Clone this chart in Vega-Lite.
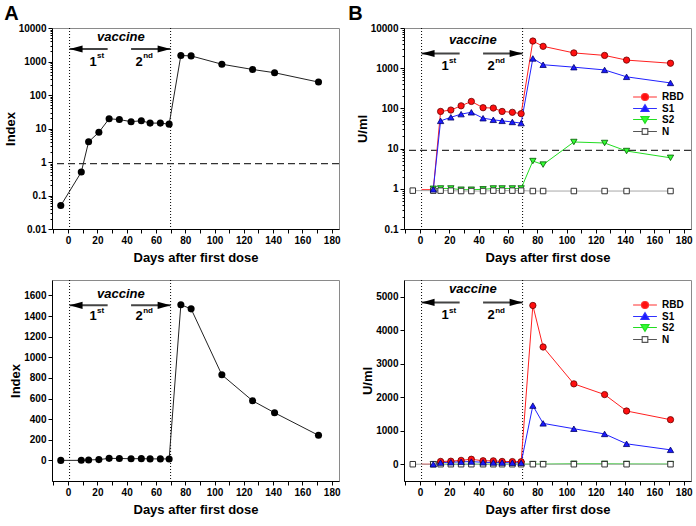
{
  "$schema": "https://vega.github.io/schema/vega-lite/v6.json",
  "padding": {"left": 3, "top": 3, "right": 2, "bottom": 4},
  "config": {
    "font": "Liberation Sans",
    "view": {"stroke": "#8a8a8a", "strokeWidth": 1},
    "axis": {
      "grid": false,
      "labelFont": "Liberation Sans",
      "labelFontSize": 10,
      "labelFontWeight": "bold",
      "labelColor": "black",
      "labelPadding": 2,
      "labelOverlap": false,
      "titleFont": "Liberation Sans",
      "titleFontSize": 13,
      "titleFontWeight": "bold",
      "titleColor": "black",
      "domainColor": "black",
      "tickColor": "black",
      "tickSize": 4
    },
    "axisX": {"titlePadding": 6},
    "axisY": {"titlePadding": 1},
    "title": {"fontSize": 20, "fontWeight": "bold", "anchor": "start", "frame": "bounds", "color": "black", "offset": -1},
    "legend": {
      "labelFont": "Liberation Sans",
      "labelFontSize": 10,
      "labelFontWeight": "bold",
      "labelColor": "black",
      "symbolSize": 49,
      "symbolStrokeWidth": 1.2,
      "symbolOpacity": 1,
      "labelOffset": 12,
      "rowPadding": -1.5,
      "padding": 0
    }
  },
  "datasets": {
    "indexA": [
      {"day": -5, "index": 0.05},
      {"day": 9, "index": 0.5},
      {"day": 14, "index": 4},
      {"day": 21, "index": 7.7},
      {"day": 28, "index": 19.5},
      {"day": 35, "index": 18.5},
      {"day": 43, "index": 16},
      {"day": 50, "index": 17},
      {"day": 56, "index": 14.5},
      {"day": 63, "index": 14.5},
      {"day": 69, "index": 13.5},
      {"day": 77, "index": 1510},
      {"day": 84, "index": 1470},
      {"day": 105, "index": 830},
      {"day": 126, "index": 578},
      {"day": 141, "index": 462},
      {"day": 171, "index": 243}
    ],
    "elisa": [
      {"series": "RBD", "day": 1, "value": 0.95},
      {"series": "RBD", "day": 9, "value": 0.95},
      {"series": "RBD", "day": 14, "value": 84},
      {"series": "RBD", "day": 21, "value": 91},
      {"series": "RBD", "day": 28, "value": 116},
      {"series": "RBD", "day": 35, "value": 149},
      {"series": "RBD", "day": 43, "value": 104},
      {"series": "RBD", "day": 50, "value": 102},
      {"series": "RBD", "day": 56, "value": 84},
      {"series": "RBD", "day": 63, "value": 80},
      {"series": "RBD", "day": 69, "value": 74},
      {"series": "RBD", "day": 77, "value": 4740},
      {"series": "RBD", "day": 84, "value": 3500},
      {"series": "RBD", "day": 105, "value": 2400},
      {"series": "RBD", "day": 126, "value": 2080},
      {"series": "RBD", "day": 141, "value": 1590},
      {"series": "RBD", "day": 171, "value": 1330},
      {"series": "S1", "day": 9, "value": 0.97},
      {"series": "S1", "day": 14, "value": 49},
      {"series": "S1", "day": 21, "value": 60},
      {"series": "S1", "day": 28, "value": 72},
      {"series": "S1", "day": 35, "value": 80},
      {"series": "S1", "day": 43, "value": 57},
      {"series": "S1", "day": 50, "value": 52},
      {"series": "S1", "day": 56, "value": 49},
      {"series": "S1", "day": 63, "value": 46},
      {"series": "S1", "day": 69, "value": 43},
      {"series": "S1", "day": 77, "value": 1750},
      {"series": "S1", "day": 84, "value": 1220},
      {"series": "S1", "day": 105, "value": 1060},
      {"series": "S1", "day": 126, "value": 905},
      {"series": "S1", "day": 141, "value": 610},
      {"series": "S1", "day": 171, "value": 430},
      {"series": "S2", "day": 9, "value": 1.0},
      {"series": "S2", "day": 14, "value": 1.02},
      {"series": "S2", "day": 21, "value": 1.02},
      {"series": "S2", "day": 28, "value": 0.95},
      {"series": "S2", "day": 35, "value": 0.95},
      {"series": "S2", "day": 43, "value": 0.97},
      {"series": "S2", "day": 50, "value": 1.02},
      {"series": "S2", "day": 56, "value": 1.02},
      {"series": "S2", "day": 63, "value": 1.02},
      {"series": "S2", "day": 69, "value": 1.02},
      {"series": "S2", "day": 77, "value": 4.9},
      {"series": "S2", "day": 84, "value": 4.0},
      {"series": "S2", "day": 105, "value": 14.6},
      {"series": "S2", "day": 126, "value": 13.8},
      {"series": "S2", "day": 141, "value": 8.7},
      {"series": "S2", "day": 171, "value": 5.9},
      {"series": "N", "day": -5, "value": 0.9},
      {"series": "N", "day": 9, "value": 0.9},
      {"series": "N", "day": 14, "value": 0.9},
      {"series": "N", "day": 21, "value": 0.9},
      {"series": "N", "day": 28, "value": 0.88},
      {"series": "N", "day": 35, "value": 0.88},
      {"series": "N", "day": 43, "value": 0.88},
      {"series": "N", "day": 50, "value": 0.9},
      {"series": "N", "day": 56, "value": 0.9},
      {"series": "N", "day": 63, "value": 0.9},
      {"series": "N", "day": 69, "value": 0.9},
      {"series": "N", "day": 77, "value": 0.88},
      {"series": "N", "day": 84, "value": 0.88},
      {"series": "N", "day": 105, "value": 0.88},
      {"series": "N", "day": 126, "value": 0.88},
      {"series": "N", "day": 141, "value": 0.88},
      {"series": "N", "day": 171, "value": 0.88}
    ],
    "doses": [{"day": 1}, {"day": 70}],
    "cutoffs": [{"panel": "A", "value": 0.9}, {"panel": "B", "value": 9}],
    "notes": [
      {"kind": "word", "label": "vaccine", "day": 36, "yTA": 5270, "yTB": 5150, "yBA": 1615, "yBB": 5230},
      {"kind": "num", "label": "1", "day": 17, "yTA": 946, "yTB": 1120, "yBA": 1398, "yBB": 4450},
      {"kind": "num", "label": "2", "day": 48.5, "yTA": 946, "yTB": 1120, "yBA": 1398, "yBB": 4450},
      {"kind": "sup", "label": "st", "day": 17, "yTA": 1500, "yTB": 1490, "yBA": 1447, "yBB": 4570},
      {"kind": "sup", "label": "nd", "day": 48.5, "yTA": 1500, "yTB": 1490, "yBA": 1447, "yBB": 4570},
      {"kind": "arrowL", "day": 1, "day2": 27, "yTA": 2360, "yTB": 2320, "yBA": 1504, "yBB": 4830},
      {"kind": "arrowR", "day": 70, "day2": 43, "yTA": 2360, "yTB": 2320, "yBA": 1504, "yBB": 4830}
    ]
  },
  "columns": 2,
  "bounds": "flush",
  "spacing": {"column": 65, "row": 51},
  "resolve": {"scale": {"color": "independent", "shape": "independent", "fill": "independent", "stroke": "independent"}},
  "concat": [
    {
      "width": 287,
      "height": 201,
      "title": {"text": "A"},
      "layer": [
        {
          "data": {"name": "doses"},
          "mark": {"type": "rule", "strokeDash": [1, 2], "color": "black", "strokeWidth": 1},
          "encoding": {"x": {"field": "day", "type": "quantitative"}}
        },
        {
          "data": {"name": "cutoffs"},
          "transform": [{"filter": "datum.panel == 'A'"}],
          "mark": {"type": "rule", "strokeDash": [7, 4], "color": "#333333", "strokeWidth": 1.2},
          "encoding": {"y": {"field": "value", "type": "quantitative"}}
        },
        {
          "data": {"name": "notes"},
          "transform": [{"filter": "datum.kind == 'arrowL' || datum.kind == 'arrowR'"}],
          "mark": {"type": "rule", "color": "#444444", "strokeWidth": 2},
          "encoding": {
            "x": {"field": "day", "type": "quantitative"},
            "x2": {"field": "day2"},
            "y": {"field": "yTA", "type": "quantitative"}
          }
        },
        {
          "data": {"name": "notes"},
          "transform": [{"filter": "datum.kind == 'arrowL'"}],
          "mark": {"type": "point", "shape": "M0,0L2,-0.55L2,0.55Z", "filled": true, "color": "black", "size": 169, "opacity": 1},
          "encoding": {
            "x": {"field": "day", "type": "quantitative"},
            "y": {"field": "yTA", "type": "quantitative"}
          }
        },
        {
          "data": {"name": "notes"},
          "transform": [{"filter": "datum.kind == 'arrowR'"}],
          "mark": {"type": "point", "shape": "M0,0L-2,-0.55L-2,0.55Z", "filled": true, "color": "black", "size": 169, "opacity": 1},
          "encoding": {
            "x": {"field": "day", "type": "quantitative"},
            "y": {"field": "yTA", "type": "quantitative"}
          }
        },
        {
          "data": {"name": "notes"},
          "transform": [{"filter": "datum.kind == 'word'"}],
          "mark": {"type": "text", "fontSize": 13, "fontWeight": "bold", "fontStyle": "italic", "baseline": "middle", "color": "black"},
          "encoding": {
            "x": {"field": "day", "type": "quantitative"},
            "y": {"field": "yTA", "type": "quantitative"},
            "text": {"field": "label"}
          }
        },
        {
          "data": {"name": "notes"},
          "transform": [{"filter": "datum.kind == 'num'"}],
          "mark": {"type": "text", "fontSize": 13, "fontWeight": "bold", "baseline": "middle", "color": "black"},
          "encoding": {
            "x": {"field": "day", "type": "quantitative"},
            "y": {"field": "yTA", "type": "quantitative"},
            "text": {"field": "label"}
          }
        },
        {
          "data": {"name": "notes"},
          "transform": [{"filter": "datum.kind == 'sup'"}],
          "mark": {"type": "text", "fontSize": 8, "fontWeight": "bold", "baseline": "middle", "align": "left", "dx": 4, "color": "black"},
          "encoding": {
            "x": {"field": "day", "type": "quantitative"},
            "y": {"field": "yTA", "type": "quantitative"},
            "text": {"field": "label"}
          }
        },
        {
          "data": {"name": "indexA"},
          "mark": {"type": "line", "color": "#222222", "strokeWidth": 1},
          "encoding": {
            "x": {
              "field": "day", "type": "quantitative",
              "scale": {"domain": [-11, 185], "nice": false, "zero": false},
              "axis": {
                "title": "Days after first dose",
                "tickCount": 100,
                "values": [-10, 0, 10, 20, 30, 40, 50, 60, 70, 80, 90, 100, 110, 120, 130, 140, 150, 160, 170, 180],
                "labelExpr": "indexof([0, 20, 40, 60, 80, 100, 120, 140, 160, 180], datum.value) >= 0 ? datum.label : ''",
                "labelOverlap": false,
                "labelFlush": false
              }
            },
            "y": {
              "field": "index", "type": "quantitative",
              "scale": {"type": "log", "domain": [0.01, 10000], "nice": false},
              "axis": {
                "title": "Index",
                "format": "~g",
                "tickCount": 100,
                "labelOverlap": false,
                "values": [0.01, 0.02, 0.03, 0.04, 0.05, 0.06, 0.07, 0.08, 0.09, 0.1, 0.2, 0.3, 0.4, 0.5, 0.6, 0.7, 0.8, 0.9, 1, 2, 3, 4, 5, 6, 7, 8, 9, 10, 20, 30, 40, 50, 60, 70, 80, 90, 100, 200, 300, 400, 500, 600, 700, 800, 900, 1000, 2000, 3000, 4000, 5000, 6000, 7000, 8000, 9000, 10000],
                "labelExpr": "indexof([0.01, 0.1, 1, 10, 100, 1000, 10000], datum.value) >= 0 ? datum.label : ''",
                "tickSize": {"condition": {"test": "indexof([0.01, 0.1, 1, 10, 100, 1000, 10000], datum.value) >= 0", "value": 4}, "value": 2}
              }
            }
          }
        },
        {
          "data": {"name": "indexA"},
          "mark": {"type": "point", "shape": "circle", "filled": true, "color": "black", "size": 50, "opacity": 1},
          "encoding": {
            "x": {"field": "day", "type": "quantitative"},
            "y": {"field": "index", "type": "quantitative"}
          }
        }
      ]
    },
    {
      "width": 287,
      "height": 201,
      "title": {"text": "B", "dx": -8},
      "layer": [
        {
          "data": {"name": "doses"},
          "mark": {"type": "rule", "strokeDash": [1, 2], "color": "black", "strokeWidth": 1},
          "encoding": {"x": {"field": "day", "type": "quantitative"}}
        },
        {
          "data": {"name": "cutoffs"},
          "transform": [{"filter": "datum.panel == 'B'"}],
          "mark": {"type": "rule", "strokeDash": [7, 4], "color": "#333333", "strokeWidth": 1.2},
          "encoding": {"y": {"field": "value", "type": "quantitative"}}
        },
        {
          "data": {"name": "notes"},
          "transform": [{"filter": "datum.kind == 'arrowL' || datum.kind == 'arrowR'"}],
          "mark": {"type": "rule", "color": "#444444", "strokeWidth": 2},
          "encoding": {
            "x": {"field": "day", "type": "quantitative"},
            "x2": {"field": "day2"},
            "y": {"field": "yTB", "type": "quantitative"}
          }
        },
        {
          "data": {"name": "notes"},
          "transform": [{"filter": "datum.kind == 'arrowL'"}],
          "mark": {"type": "point", "shape": "M0,0L2,-0.55L2,0.55Z", "filled": true, "color": "black", "size": 169, "opacity": 1},
          "encoding": {
            "x": {"field": "day", "type": "quantitative"},
            "y": {"field": "yTB", "type": "quantitative"}
          }
        },
        {
          "data": {"name": "notes"},
          "transform": [{"filter": "datum.kind == 'arrowR'"}],
          "mark": {"type": "point", "shape": "M0,0L-2,-0.55L-2,0.55Z", "filled": true, "color": "black", "size": 169, "opacity": 1},
          "encoding": {
            "x": {"field": "day", "type": "quantitative"},
            "y": {"field": "yTB", "type": "quantitative"}
          }
        },
        {
          "data": {"name": "notes"},
          "transform": [{"filter": "datum.kind == 'word'"}],
          "mark": {"type": "text", "fontSize": 13, "fontWeight": "bold", "fontStyle": "italic", "baseline": "middle", "color": "black"},
          "encoding": {
            "x": {"field": "day", "type": "quantitative"},
            "y": {"field": "yTB", "type": "quantitative"},
            "text": {"field": "label"}
          }
        },
        {
          "data": {"name": "notes"},
          "transform": [{"filter": "datum.kind == 'num'"}],
          "mark": {"type": "text", "fontSize": 13, "fontWeight": "bold", "baseline": "middle", "color": "black"},
          "encoding": {
            "x": {"field": "day", "type": "quantitative"},
            "y": {"field": "yTB", "type": "quantitative"},
            "text": {"field": "label"}
          }
        },
        {
          "data": {"name": "notes"},
          "transform": [{"filter": "datum.kind == 'sup'"}],
          "mark": {"type": "text", "fontSize": 8, "fontWeight": "bold", "baseline": "middle", "align": "left", "dx": 4, "color": "black"},
          "encoding": {
            "x": {"field": "day", "type": "quantitative"},
            "y": {"field": "yTB", "type": "quantitative"},
            "text": {"field": "label"}
          }
        },
        {
          "data": {"name": "elisa"},
          "mark": {"type": "line", "strokeWidth": 1},
          "encoding": {
            "x": {
              "field": "day", "type": "quantitative",
              "scale": {"domain": [-11, 185], "nice": false, "zero": false},
              "axis": {
                "title": "Days after first dose",
                "tickCount": 100,
                "values": [-10, 0, 10, 20, 30, 40, 50, 60, 70, 80, 90, 100, 110, 120, 130, 140, 150, 160, 170, 180],
                "labelExpr": "indexof([0, 20, 40, 60, 80, 100, 120, 140, 160, 180], datum.value) >= 0 ? datum.label : ''",
                "labelOverlap": false,
                "labelFlush": false
              }
            },
            "y": {
              "field": "value", "type": "quantitative",
              "scale": {"type": "log", "domain": [0.1, 10000], "nice": false},
              "axis": {
                "title": "U/ml",
                "format": "~g",
                "tickCount": 100,
                "labelOverlap": false,
                "values": [0.1, 0.2, 0.3, 0.4, 0.5, 0.6, 0.7, 0.8, 0.9, 1, 2, 3, 4, 5, 6, 7, 8, 9, 10, 20, 30, 40, 50, 60, 70, 80, 90, 100, 200, 300, 400, 500, 600, 700, 800, 900, 1000, 2000, 3000, 4000, 5000, 6000, 7000, 8000, 9000, 10000],
                "labelExpr": "indexof([0.1, 1, 10, 100, 1000, 10000], datum.value) >= 0 ? datum.label : ''",
                "tickSize": {"condition": {"test": "indexof([0.1, 1, 10, 100, 1000, 10000], datum.value) >= 0", "value": 4}, "value": 2}
              }
            },
            "color": {
              "field": "series", "type": "nominal",
              "scale": {"domain": ["N", "S2", "S1", "RBD"], "range": ["#a8a8a8", "#22dd22", "#2020ff", "#ff2020"]},
              "legend": null
            },
            "order": {"field": "day", "type": "quantitative"}
          }
        },
        {
          "data": {"name": "elisa"},
          "transform": [{"filter": "datum.series == 'S2'"}],
          "mark": {"type": "point", "shape": "triangle-down", "filled": true, "fill": "#33ff33", "stroke": "#005500", "strokeWidth": 0.8, "size": 40, "opacity": 1},
          "encoding": {
            "x": {"field": "day", "type": "quantitative"},
            "y": {"field": "value", "type": "quantitative"}
          }
        },
        {
          "data": {"name": "elisa"},
          "transform": [{"filter": "datum.series == 'N'"}],
          "mark": {"type": "point", "shape": "square", "filled": true, "fill": "white", "stroke": "#333333", "strokeWidth": 1, "size": 30, "opacity": 1},
          "encoding": {
            "x": {"field": "day", "type": "quantitative"},
            "y": {"field": "value", "type": "quantitative"}
          }
        },
        {
          "data": {"name": "elisa"},
          "transform": [{"filter": "datum.series == 'RBD' && datum.day > 10"}],
          "mark": {"type": "point", "shape": "circle", "filled": true, "fill": "#ff1010", "stroke": "#6a0000", "strokeWidth": 0.8, "size": 40, "opacity": 1},
          "encoding": {
            "x": {"field": "day", "type": "quantitative"},
            "y": {"field": "value", "type": "quantitative"}
          }
        },
        {
          "data": {"name": "elisa"},
          "transform": [{"filter": "datum.series == 'S1'"}],
          "mark": {"type": "point", "shape": "triangle-up", "filled": true, "fill": "#1a1aff", "stroke": "#00006a", "strokeWidth": 0.8, "size": 40, "opacity": 1},
          "encoding": {
            "x": {"field": "day", "type": "quantitative"},
            "y": {"field": "value", "type": "quantitative"}
          }
        },
        {
          "data": {"name": "elisa"},
          "transform": [{"filter": "datum.day == 171"}],
          "mark": {"type": "point", "filled": true, "opacity": 0},
          "encoding": {
            "x": {"field": "day", "type": "quantitative"},
            "y": {"field": "value", "type": "quantitative"},
            "shape": {
              "field": "series", "type": "nominal",
              "scale": {"domain": ["RBD", "S1", "S2", "N"], "range": ["M-3.4,0H-1M1,0H3.4M-1,0A1,1 0 1,0 1,0A1,1 0 1,0 -1,0Z", "M-3.4,0H-0.67M0.67,0H3.4M-1.15,0.8L0,-1.1L1.15,0.8Z", "M-3.4,0H-0.67M0.67,0H3.4M-1.15,-0.8L0,1.1L1.15,-0.8Z", "M-3.4,0H-0.8M0.8,0H3.4M-0.8,-0.8H0.8V0.8H-0.8Z"]},
              "legend": {"title": null, "orient": "none", "legendX": 236, "legendY": 64}
            },
            "fill": {
              "field": "series", "type": "nominal",
              "scale": {"domain": ["RBD", "S1", "S2", "N"], "range": ["#ff1010", "#1a1aff", "#33ff33", "#ffffff"]},
              "legend": {"title": null, "orient": "none", "legendX": 236, "legendY": 64}
            },
            "stroke": {
              "field": "series", "type": "nominal",
              "scale": {"domain": ["RBD", "S1", "S2", "N"], "range": ["#ff3030", "#3030ff", "#22dd22", "#555555"]},
              "legend": {"title": null, "orient": "none", "legendX": 236, "legendY": 64}
            }
          }
        }
      ]
    },
    {
      "width": 287,
      "height": 201,
      "layer": [
        {
          "data": {"name": "doses"},
          "mark": {"type": "rule", "strokeDash": [1, 2], "color": "black", "strokeWidth": 1},
          "encoding": {"x": {"field": "day", "type": "quantitative"}}
        },
        {
          "data": {"name": "notes"},
          "transform": [{"filter": "datum.kind == 'arrowL' || datum.kind == 'arrowR'"}],
          "mark": {"type": "rule", "color": "#444444", "strokeWidth": 2},
          "encoding": {
            "x": {"field": "day", "type": "quantitative"},
            "x2": {"field": "day2"},
            "y": {"field": "yBA", "type": "quantitative"}
          }
        },
        {
          "data": {"name": "notes"},
          "transform": [{"filter": "datum.kind == 'arrowL'"}],
          "mark": {"type": "point", "shape": "M0,0L2,-0.55L2,0.55Z", "filled": true, "color": "black", "size": 169, "opacity": 1},
          "encoding": {
            "x": {"field": "day", "type": "quantitative"},
            "y": {"field": "yBA", "type": "quantitative"}
          }
        },
        {
          "data": {"name": "notes"},
          "transform": [{"filter": "datum.kind == 'arrowR'"}],
          "mark": {"type": "point", "shape": "M0,0L-2,-0.55L-2,0.55Z", "filled": true, "color": "black", "size": 169, "opacity": 1},
          "encoding": {
            "x": {"field": "day", "type": "quantitative"},
            "y": {"field": "yBA", "type": "quantitative"}
          }
        },
        {
          "data": {"name": "notes"},
          "transform": [{"filter": "datum.kind == 'word'"}],
          "mark": {"type": "text", "fontSize": 13, "fontWeight": "bold", "fontStyle": "italic", "baseline": "middle", "color": "black"},
          "encoding": {
            "x": {"field": "day", "type": "quantitative"},
            "y": {"field": "yBA", "type": "quantitative"},
            "text": {"field": "label"}
          }
        },
        {
          "data": {"name": "notes"},
          "transform": [{"filter": "datum.kind == 'num'"}],
          "mark": {"type": "text", "fontSize": 13, "fontWeight": "bold", "baseline": "middle", "color": "black"},
          "encoding": {
            "x": {"field": "day", "type": "quantitative"},
            "y": {"field": "yBA", "type": "quantitative"},
            "text": {"field": "label"}
          }
        },
        {
          "data": {"name": "notes"},
          "transform": [{"filter": "datum.kind == 'sup'"}],
          "mark": {"type": "text", "fontSize": 8, "fontWeight": "bold", "baseline": "middle", "align": "left", "dx": 4, "color": "black"},
          "encoding": {
            "x": {"field": "day", "type": "quantitative"},
            "y": {"field": "yBA", "type": "quantitative"},
            "text": {"field": "label"}
          }
        },
        {
          "data": {"name": "indexA"},
          "mark": {"type": "line", "color": "#222222", "strokeWidth": 1},
          "encoding": {
            "x": {
              "field": "day", "type": "quantitative",
              "scale": {"domain": [-11, 185], "nice": false, "zero": false},
              "axis": {
                "title": "Days after first dose",
                "tickCount": 100,
                "values": [-10, 0, 10, 20, 30, 40, 50, 60, 70, 80, 90, 100, 110, 120, 130, 140, 150, 160, 170, 180],
                "labelExpr": "indexof([0, 20, 40, 60, 80, 100, 120, 140, 160, 180], datum.value) >= 0 ? datum.label : ''",
                "labelOverlap": false,
                "labelFlush": false
              }
            },
            "y": {
              "field": "index", "type": "quantitative",
              "scale": {"domain": [-200, 1750], "nice": false, "zero": false},
              "axis": {"title": "Index", "format": "d", "tickCount": 100, "labelOverlap": false, "values": [0, 200, 400, 600, 800, 1000, 1200, 1400, 1600]}
            }
          }
        },
        {
          "data": {"name": "indexA"},
          "mark": {"type": "point", "shape": "circle", "filled": true, "color": "black", "size": 50, "opacity": 1},
          "encoding": {
            "x": {"field": "day", "type": "quantitative"},
            "y": {"field": "index", "type": "quantitative"}
          }
        }
      ]
    },
    {
      "width": 287,
      "height": 201,
      "layer": [
        {
          "data": {"name": "doses"},
          "mark": {"type": "rule", "strokeDash": [1, 2], "color": "black", "strokeWidth": 1},
          "encoding": {"x": {"field": "day", "type": "quantitative"}}
        },
        {
          "data": {"name": "notes"},
          "transform": [{"filter": "datum.kind == 'arrowL' || datum.kind == 'arrowR'"}],
          "mark": {"type": "rule", "color": "#444444", "strokeWidth": 2},
          "encoding": {
            "x": {"field": "day", "type": "quantitative"},
            "x2": {"field": "day2"},
            "y": {"field": "yBB", "type": "quantitative"}
          }
        },
        {
          "data": {"name": "notes"},
          "transform": [{"filter": "datum.kind == 'arrowL'"}],
          "mark": {"type": "point", "shape": "M0,0L2,-0.55L2,0.55Z", "filled": true, "color": "black", "size": 169, "opacity": 1},
          "encoding": {
            "x": {"field": "day", "type": "quantitative"},
            "y": {"field": "yBB", "type": "quantitative"}
          }
        },
        {
          "data": {"name": "notes"},
          "transform": [{"filter": "datum.kind == 'arrowR'"}],
          "mark": {"type": "point", "shape": "M0,0L-2,-0.55L-2,0.55Z", "filled": true, "color": "black", "size": 169, "opacity": 1},
          "encoding": {
            "x": {"field": "day", "type": "quantitative"},
            "y": {"field": "yBB", "type": "quantitative"}
          }
        },
        {
          "data": {"name": "notes"},
          "transform": [{"filter": "datum.kind == 'word'"}],
          "mark": {"type": "text", "fontSize": 13, "fontWeight": "bold", "fontStyle": "italic", "baseline": "middle", "color": "black"},
          "encoding": {
            "x": {"field": "day", "type": "quantitative"},
            "y": {"field": "yBB", "type": "quantitative"},
            "text": {"field": "label"}
          }
        },
        {
          "data": {"name": "notes"},
          "transform": [{"filter": "datum.kind == 'num'"}],
          "mark": {"type": "text", "fontSize": 13, "fontWeight": "bold", "baseline": "middle", "color": "black"},
          "encoding": {
            "x": {"field": "day", "type": "quantitative"},
            "y": {"field": "yBB", "type": "quantitative"},
            "text": {"field": "label"}
          }
        },
        {
          "data": {"name": "notes"},
          "transform": [{"filter": "datum.kind == 'sup'"}],
          "mark": {"type": "text", "fontSize": 8, "fontWeight": "bold", "baseline": "middle", "align": "left", "dx": 4, "color": "black"},
          "encoding": {
            "x": {"field": "day", "type": "quantitative"},
            "y": {"field": "yBB", "type": "quantitative"},
            "text": {"field": "label"}
          }
        },
        {
          "data": {"name": "elisa"},
          "mark": {"type": "line", "strokeWidth": 1},
          "encoding": {
            "x": {
              "field": "day", "type": "quantitative",
              "scale": {"domain": [-11, 185], "nice": false, "zero": false},
              "axis": {
                "title": "Days after first dose",
                "tickCount": 100,
                "values": [-10, 0, 10, 20, 30, 40, 50, 60, 70, 80, 90, 100, 110, 120, 130, 140, 150, 160, 170, 180],
                "labelExpr": "indexof([0, 20, 40, 60, 80, 100, 120, 140, 160, 180], datum.value) >= 0 ? datum.label : ''",
                "labelOverlap": false,
                "labelFlush": false
              }
            },
            "y": {
              "field": "value", "type": "quantitative",
              "scale": {"domain": [-500, 5500], "nice": false, "zero": false},
              "axis": {"title": "U/ml", "format": "d", "tickCount": 100, "labelOverlap": false, "values": [0, 1000, 2000, 3000, 4000, 5000]}
            },
            "color": {
              "field": "series", "type": "nominal",
              "scale": {"domain": ["N", "S2", "S1", "RBD"], "range": ["#a8a8a8", "#22dd22", "#2020ff", "#ff2020"]},
              "legend": null
            },
            "order": {"field": "day", "type": "quantitative"}
          }
        },
        {
          "data": {"name": "elisa"},
          "transform": [{"filter": "datum.series == 'S2'"}],
          "mark": {"type": "point", "shape": "triangle-down", "filled": true, "fill": "#33ff33", "stroke": "#005500", "strokeWidth": 0.8, "size": 40, "opacity": 1},
          "encoding": {
            "x": {"field": "day", "type": "quantitative"},
            "y": {"field": "value", "type": "quantitative"}
          }
        },
        {
          "data": {"name": "elisa"},
          "transform": [{"filter": "datum.series == 'N'"}],
          "mark": {"type": "point", "shape": "square", "filled": true, "fill": "white", "stroke": "#333333", "strokeWidth": 1, "size": 30, "opacity": 1},
          "encoding": {
            "x": {"field": "day", "type": "quantitative"},
            "y": {"field": "value", "type": "quantitative"}
          }
        },
        {
          "data": {"name": "elisa"},
          "transform": [{"filter": "datum.series == 'RBD' && datum.day > 10"}],
          "mark": {"type": "point", "shape": "circle", "filled": true, "fill": "#ff1010", "stroke": "#6a0000", "strokeWidth": 0.8, "size": 40, "opacity": 1},
          "encoding": {
            "x": {"field": "day", "type": "quantitative"},
            "y": {"field": "value", "type": "quantitative"}
          }
        },
        {
          "data": {"name": "elisa"},
          "transform": [{"filter": "datum.series == 'S1'"}],
          "mark": {"type": "point", "shape": "triangle-up", "filled": true, "fill": "#1a1aff", "stroke": "#00006a", "strokeWidth": 0.8, "size": 40, "opacity": 1},
          "encoding": {
            "x": {"field": "day", "type": "quantitative"},
            "y": {"field": "value", "type": "quantitative"}
          }
        },
        {
          "data": {"name": "elisa"},
          "transform": [{"filter": "datum.day == 171"}],
          "mark": {"type": "point", "filled": true, "opacity": 0},
          "encoding": {
            "x": {"field": "day", "type": "quantitative"},
            "y": {"field": "value", "type": "quantitative"},
            "shape": {
              "field": "series", "type": "nominal",
              "scale": {"domain": ["RBD", "S1", "S2", "N"], "range": ["M-3.4,0H-1M1,0H3.4M-1,0A1,1 0 1,0 1,0A1,1 0 1,0 -1,0Z", "M-3.4,0H-0.67M0.67,0H3.4M-1.15,0.8L0,-1.1L1.15,0.8Z", "M-3.4,0H-0.67M0.67,0H3.4M-1.15,-0.8L0,1.1L1.15,-0.8Z", "M-3.4,0H-0.8M0.8,0H3.4M-0.8,-0.8H0.8V0.8H-0.8Z"]},
              "legend": {"title": null, "orient": "none", "legendX": 236, "legendY": 20}
            },
            "fill": {
              "field": "series", "type": "nominal",
              "scale": {"domain": ["RBD", "S1", "S2", "N"], "range": ["#ff1010", "#1a1aff", "#33ff33", "#ffffff"]},
              "legend": {"title": null, "orient": "none", "legendX": 236, "legendY": 20}
            },
            "stroke": {
              "field": "series", "type": "nominal",
              "scale": {"domain": ["RBD", "S1", "S2", "N"], "range": ["#ff3030", "#3030ff", "#22dd22", "#555555"]},
              "legend": {"title": null, "orient": "none", "legendX": 236, "legendY": 20}
            }
          }
        }
      ]
    }
  ]
}
